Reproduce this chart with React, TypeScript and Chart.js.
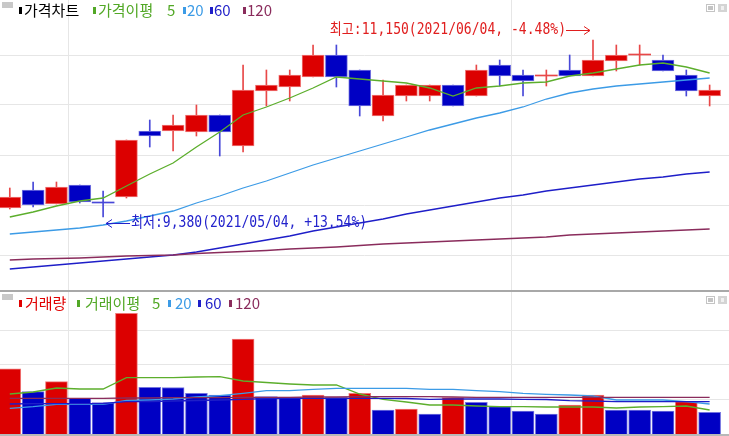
import React, { useEffect, useRef } from 'react';
import { Chart, registerables } from 'chart.js';

Chart.register(...registerables);

// ---------- data ----------
const dates = [
  '2021/04/28', '2021/04/29', '2021/04/30', '2021/05/03', '2021/05/04', '2021/05/06', '2021/05/07',
  '2021/05/10', '2021/05/11', '2021/05/12', '2021/05/13', '2021/05/14', '2021/05/17', '2021/05/18',
  '2021/05/20', '2021/05/21', '2021/05/24', '2021/05/25', '2021/05/26', '2021/05/27', '2021/05/28',
  '2021/05/31', '2021/06/01', '2021/06/02', '2021/06/03', '2021/06/04', '2021/06/07', '2021/06/08',
  '2021/06/09', '2021/06/10', '2021/06/11',
];
const opens = [9470, 9650, 9510, 9700, 9520, 9580, 10240, 10240, 10230, 10400, 10090, 10640, 10680, 10780, 11000, 10850, 10390, 10590, 10590, 10700, 10590, 10900, 10800, 10790, 10850, 10790, 10940, 11000, 10950, 10800, 10590];
const highs = [9670, 9730, 9730, 9700, 9640, 10150, 10350, 10400, 10500, 10400, 10900, 10850, 10850, 11100, 11100, 10850, 10750, 10700, 10700, 10700, 10900, 10950, 10850, 10850, 11000, 11150, 11100, 11100, 11000, 10850, 10700];
const lows = [9460, 9480, 9510, 9520, 9380, 9570, 10080, 10040, 10190, 9990, 10030, 10490, 10540, 10780, 10680, 10390, 10340, 10540, 10540, 10490, 10590, 10690, 10590, 10690, 10790, 10790, 10840, 10900, 10840, 10590, 10490];
const closes = [9580, 9500, 9680, 9530, 9520, 10150, 10190, 10300, 10400, 10230, 10650, 10700, 10800, 11000, 10780, 10490, 10600, 10700, 10700, 10490, 10850, 10790, 10740, 10790, 10790, 10950, 11000, 11000, 10840, 10640, 10650];

const priceMa5 = [9380, 9430, 9490, 9540, 9570, 9690, 9810, 9920, 10080, 10230, 10400, 10480, 10570, 10670, 10780, 10760, 10740, 10720, 10670, 10590, 10670, 10690, 10720, 10730, 10790, 10820, 10860, 10900, 10920, 10880, 10820];
const priceMa20 = [9210, 9230, 9250, 9270, 9300, 9340, 9390, 9440, 9520, 9590, 9670, 9740, 9820, 9900, 9970, 10040, 10110, 10180, 10250, 10310, 10370, 10420, 10480, 10560, 10620, 10660, 10690, 10710, 10730, 10750, 10770];
const priceMa60 = [8860, 8880, 8900, 8920, 8940, 8960, 8980, 9000, 9030, 9070, 9110, 9150, 9190, 9240, 9280, 9320, 9360, 9410, 9450, 9490, 9530, 9570, 9600, 9640, 9670, 9700, 9730, 9760, 9780, 9810, 9830];
const priceMa120 = [8950, 8960, 8965, 8970, 8980, 8990, 8995, 9000, 9015, 9025, 9035, 9045, 9060, 9070, 9080, 9095, 9110, 9120, 9130, 9140, 9150, 9160, 9170, 9180, 9200, 9210, 9220, 9230, 9240, 9250, 9260];

const volumes = [188000, 122300, 151200, 103200, 90500, 348800, 135000, 134400, 117600, 112700, 274600, 107800, 107000, 112700, 106100, 117600, 69400, 72300, 57800, 104900, 91600, 78900, 66500, 57800, 83800, 112700, 69400, 68800, 66500, 93400, 62700];
const volMa5 = [115600, 121400, 132900, 130100, 130100, 162700, 162700, 162700, 164700, 165600, 153200, 148800, 144500, 141600, 141600, 115600, 100300, 92500, 83800, 83800, 80900, 78900, 78900, 78000, 78000, 78000, 75100, 78000, 78900, 80900, 69400];
const volMa20 = [74300, 78900, 85800, 85800, 85800, 96800, 98300, 101200, 106900, 110700, 117600, 125100, 125100, 129200, 132100, 132100, 132100, 132100, 129200, 129200, 125100, 122300, 117600, 114700, 112700, 109800, 98300, 98300, 98300, 93400, 86700];
const volMa60 = [86700, 87600, 87600, 87600, 88200, 93400, 93900, 95400, 96800, 98300, 100300, 102600, 103200, 103200, 103200, 103200, 103200, 102600, 100300, 101200, 101200, 101200, 100300, 99700, 96200, 95400, 93400, 93400, 93400, 93400, 93400];
const volMa120 = [103200, 103200, 103200, 103200, 103200, 104000, 104000, 104900, 104900, 104900, 106100, 106100, 106100, 106900, 106900, 107800, 107800, 107800, 107800, 106900, 106100, 106100, 106100, 106100, 106100, 106100, 106100, 106100, 106100, 106100, 106100];

const priceTicks = [9000, 9500, 10000, 10500, 11000];
const volumeTicks = [100000, 200000, 300000];

// ---------- style ----------
const W = 729;
const PRICE_H = 290;
const VOL_TOP = 292;
const VOL_H = 142;
const X_MIN = -0.42;
const X_MAX = 30.83;
const PRICE_MIN = 8650;
const PRICE_MAX = 11550;
const VOL_MAX = 410400;

const GRID = '#e6e6e6';
const RED = '#dc0000';
const RED_BORDER = '#f07878';
const BLUE = '#0000c4';
const BLUE_BORDER = '#7474e0';
const RED_WICK = '#e84848';
const BLUE_WICK = '#4848d8';
const C_MA5 = '#5cae2c';
const C_MA20 = '#3c9be6';
const C_MA60 = '#1e1ec8';
const C_MA120 = '#8a2c5c';
const CJK = '"Noto Sans CJK KR", "Noto Sans", sans-serif';

const isUp = (i: number) => {
  if (closes[i] > opens[i]) return true;
  if (closes[i] < opens[i]) return false;
  return i === 0 ? true : closes[i] >= closes[i - 1];
};
const volUp = (i: number) => (i === 0 ? true : volumes[i] > volumes[i - 1]);
const pts = (arr: number[]) => arr.map((v, i) => ({ x: i, y: v }));
const monthTicks = dates
  .map((d, i) => (i > 0 && d.slice(5, 7) !== dates[i - 1].slice(5, 7) ? i - 0.5 : null))
  .filter((v) => v !== null) as number[];

const lineDs = (label: string, data: number[], color: string) => ({
  type: 'line' as const,
  label,
  data: pts(data),
  borderColor: color,
  borderWidth: 1.3,
  pointRadius: 0,
  tension: 0,
  order: 0,
});

const xScale = {
  type: 'linear' as const,
  min: X_MIN,
  max: X_MAX,
  offset: false,
  ticks: { display: false },
  grid: { color: GRID, drawTicks: false, lineWidth: 1, offset: false },
  border: { display: false },
  afterBuildTicks: (axis: any) => {
    axis.ticks = monthTicks.map((v) => ({ value: v }));
  },
};

const fmt = (v: number) => v.toLocaleString('en-US');
const pct = (a: number, b: number) => {
  const p = ((a - b) / b) * 100;
  return (p >= 0 ? '+' : '') + p.toFixed(2);
};

const TEXT_SX = 0.87;
function drawScaledText(ctx: CanvasRenderingContext2D, txt: string, x: number, y: number, align: 'left' | 'right') {
  ctx.save();
  ctx.font = '15px "DejaVu Sans Mono", "Noto Sans CJK KR", monospace';
  ctx.textBaseline = 'middle';
  ctx.textAlign = 'left';
  const w = ctx.measureText(txt).width * TEXT_SX;
  const left = align === 'right' ? x - w : x;
  ctx.translate(left, y);
  ctx.scale(TEXT_SX, 1);
  ctx.fillText(txt, 0, 0);
  ctx.restore();
}

const annotationPlugin = {
  id: 'hiLo',
  afterDatasetsDraw(chart: any) {
    const { ctx } = chart;
    const xs = chart.scales.x;
    const ys = chart.scales.y;
    const hi = Math.max(...highs);
    const lo = Math.min(...lows);
    const hiIdx = highs.indexOf(hi);
    const loIdx = lows.indexOf(lo);
    const last = closes[closes.length - 1];
    const arrowLen = 24;
    ctx.save();
    ctx.lineWidth = 1;
    // high
    const hx = Math.round(xs.getPixelForValue(hiIdx) - 3);
    const hy = Math.round(ys.getPixelForValue(hi) - 10) + 0.5;
    ctx.fillStyle = '#e01e1e';
    ctx.strokeStyle = '#e01e1e';
    drawScaledText(ctx, `최고:${fmt(hi)}(${dates[hiIdx]}, ${pct(last, hi)}%)`, hx - arrowLen, hy, 'right');
    ctx.beginPath();
    ctx.moveTo(hx - arrowLen, hy);
    ctx.lineTo(hx, hy);
    ctx.moveTo(hx - 6, hy - 4);
    ctx.lineTo(hx, hy);
    ctx.lineTo(hx - 6, hy + 4);
    ctx.stroke();
    // low
    const lx = Math.round(xs.getPixelForValue(loIdx) + 3);
    const ly = Math.round(ys.getPixelForValue(lo) + 6) + 0.5;
    ctx.fillStyle = '#2323cc';
    ctx.strokeStyle = '#2323cc';
    drawScaledText(ctx, `최저:${fmt(lo)}(${dates[loIdx]}, ${pct(last, lo)}%)`, lx + arrowLen + 1, ly, 'left');
    ctx.beginPath();
    ctx.moveTo(lx + arrowLen, ly);
    ctx.lineTo(lx, ly);
    ctx.moveTo(lx + 6, ly - 4);
    ctx.lineTo(lx, ly);
    ctx.lineTo(lx + 6, ly + 4);
    ctx.stroke();
    ctx.restore();
  },
};

function Legend({ top, items }: { top: number; items: { left: number; text: string; color: string; marker?: number }[] }) {
  return (
    <>
      {items.map((it, k) => (
        <React.Fragment key={k}>
          {it.marker !== undefined && (
            <div style={{ position: 'absolute', left: it.marker, top: top + 6, width: 3, height: 7, background: it.color }} />
          )}
          <div
            style={{
              position: 'absolute',
              left: it.left,
              top: top,
              font: `15px ${CJK}`,
              lineHeight: '18px',
              color: it.color,
              whiteSpace: 'nowrap',
            }}
          >
            {it.text}
          </div>
        </React.Fragment>
      ))}
    </>
  );
}

function Buttons({ top }: { top: number }) {
  return (
    <>
      <div style={{ position: 'absolute', left: 2, top: top + 2, width: 11, height: 6, background: '#c8c8c8' }} />
      <div style={{ position: 'absolute', left: 706, top: top + 4, width: 7, height: 6, border: '1px solid #c4c4c4', background: '#fff' }}>
        <div style={{ position: 'absolute', left: 1, top: 1, width: 5, height: 4, background: '#c4c4c4' }} />
      </div>
      <div style={{ position: 'absolute', left: 718, top: top + 4, width: 9, height: 8, background: '#d4d4d4' }}>
        <div style={{ position: 'absolute', left: 3, top: 2, width: 3, height: 4, background: '#f0f0f0' }} />
      </div>
    </>
  );
}

export default function App() {
  const priceRef = useRef<HTMLCanvasElement>(null);
  const volRef = useRef<HTMLCanvasElement>(null);

  useEffect(() => {
    const priceChart = new Chart(priceRef.current as HTMLCanvasElement, {
      type: 'bar',
      data: {
        datasets: [
          lineDs('120', priceMa120, C_MA120),
          lineDs('60', priceMa60, C_MA60),
          lineDs('20', priceMa20, C_MA20),
          lineDs('5', priceMa5, C_MA5),
          {
            type: 'bar',
            label: 'body',
            data: dates.map((_, i) => ({ x: i, y: [opens[i], closes[i]] })) as any,
            backgroundColor: (c: any) => {
              const i = c.dataIndex;
              if (opens[i] === closes[i]) return isUp(i) ? RED_WICK : BLUE_WICK;
              return isUp(i) ? RED : BLUE;
            },
            borderColor: (c: any) => (isUp(c.dataIndex) ? RED_BORDER : BLUE_BORDER),
            borderWidth: (c: any) => (opens[c.dataIndex] === closes[c.dataIndex] ? 0 : 1),
            borderSkipped: false,
            barThickness: 22,
            minBarLength: 1,
            grouped: false,
            order: 1,
          } as any,
          {
            type: 'bar',
            label: 'wick',
            data: dates.map((_, i) => ({ x: i, y: [lows[i], highs[i]] })) as any,
            backgroundColor: (c: any) => (isUp(c.dataIndex) ? RED_WICK : BLUE_WICK),
            borderWidth: 0,
            barThickness: 1,
            grouped: false,
            order: 2,
          } as any,
        ],
      },
      options: {
        animation: false,
        responsive: false,
        maintainAspectRatio: false,
        events: [],
        layout: { padding: 0 },
        plugins: { legend: { display: false }, tooltip: { enabled: false } },
        scales: {
          x: xScale as any,
          y: {
            type: 'linear',
            min: PRICE_MIN,
            max: PRICE_MAX,
            ticks: { display: false },
            grid: { color: GRID, drawTicks: false, lineWidth: 1 },
            border: { display: false },
            afterBuildTicks: (axis: any) => {
              axis.ticks = priceTicks.map((v) => ({ value: v }));
            },
          },
        },
      },
      plugins: [annotationPlugin],
    });

    const volChart = new Chart(volRef.current as HTMLCanvasElement, {
      type: 'bar',
      data: {
        datasets: [
          lineDs('120', volMa120, C_MA120),
          lineDs('60', volMa60, C_MA60),
          lineDs('20', volMa20, C_MA20),
          lineDs('5', volMa5, C_MA5),
          {
            type: 'bar',
            label: '거래량',
            data: dates.map((_, i) => ({ x: i, y: volumes[i] })) as any,
            backgroundColor: (c: any) => (volUp(c.dataIndex) ? RED : BLUE),
            borderColor: (c: any) => (volUp(c.dataIndex) ? RED_BORDER : BLUE_BORDER),
            borderWidth: 1,
            barThickness: 22,
            grouped: false,
            order: 1,
          } as any,
        ],
      },
      options: {
        animation: false,
        responsive: false,
        maintainAspectRatio: false,
        events: [],
        layout: { padding: 0 },
        plugins: { legend: { display: false }, tooltip: { enabled: false } },
        scales: {
          x: xScale as any,
          y: {
            type: 'linear',
            min: 0,
            max: VOL_MAX,
            ticks: { display: false },
            grid: { color: GRID, drawTicks: false, lineWidth: 1 },
            border: { display: false },
            afterBuildTicks: (axis: any) => {
              axis.ticks = volumeTicks.map((v) => ({ value: v }));
            },
          },
        },
      },
    });

    return () => {
      priceChart.destroy();
      volChart.destroy();
    };
  }, []);

  return (
    <div style={{ position: 'absolute', left: 0, top: 0, width: W, height: 436, background: '#fff', overflow: 'hidden' }}>
      <canvas ref={priceRef} width={W} height={PRICE_H} style={{ position: 'absolute', left: 0, top: 0, width: W, height: PRICE_H }} />
      <div style={{ position: 'absolute', left: 0, top: PRICE_H, width: W, height: 2, background: '#a8a8a8' }} />
      <canvas ref={volRef} width={W} height={VOL_H} style={{ position: 'absolute', left: 0, top: VOL_TOP, width: W, height: VOL_H }} />
      <div style={{ position: 'absolute', left: 0, top: VOL_TOP + VOL_H, width: W, height: 2, background: '#b8b8b8' }} />

      <Buttons top={0} />
      <Legend
        top={1}
        items={[
          { left: 24, text: '가격차트', color: '#000000', marker: 19 },
          { left: 98, text: '가격이평', color: '#52a826', marker: 93 },
          { left: 167, text: '5', color: '#52a826' },
          { left: 187, text: '20', color: C_MA20, marker: 183 },
          { left: 214, text: '60', color: C_MA60, marker: 210 },
          { left: 247, text: '120', color: C_MA120, marker: 243 },
        ]}
      />

      <Buttons top={VOL_TOP} />
      <Legend
        top={VOL_TOP + 2}
        items={[
          { left: 25, text: '거래량', color: '#e00000', marker: 19 },
          { left: 85, text: '거래이평', color: '#52a826', marker: 77 },
          { left: 152, text: '5', color: '#52a826' },
          { left: 175, text: '20', color: C_MA20, marker: 168 },
          { left: 205, text: '60', color: C_MA60, marker: 198 },
          { left: 235, text: '120', color: C_MA120, marker: 229 },
        ]}
      />
    </div>
  );
}
